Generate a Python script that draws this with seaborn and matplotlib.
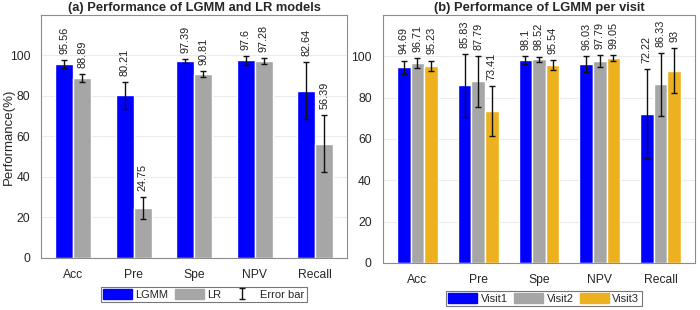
import numpy as np
import pandas as pd
import matplotlib
matplotlib.use('Agg')
import matplotlib.pyplot as plt
import seaborn as sns

METRICS = ['Acc', 'Pre', 'Spe', 'NPV', 'Recall']

# (a) LGMM vs LR
LGMM = [95.56, 80.21, 97.39, 97.6, 82.64]
LGMM_ERR = [2.0, 6.8, 1.0, 2.1, 14.0]
LR = [88.89, 24.75, 90.81, 97.28, 56.39]
LR_ERR = [1.8, 5.5, 1.4, 1.5, 14.0]

# (b) LGMM per visit
VISIT1 = [94.69, 85.83, 98.1, 96.03, 72.22]
VISIT1_ERR = [3.2, 15.3, 2.0, 3.9, 21.7]
VISIT2 = [96.71, 87.79, 98.52, 97.79, 86.33]
VISIT2_ERR = [2.4, 12.3, 1.3, 2.8, 15.2]
VISIT3 = [95.23, 73.41, 95.54, 99.05, 93.0]
VISIT3_ERR = [2.6, 12.2, 2.4, 1.3, 11.0]

BLUE, GRAY, GOLD = '#0000FF', '#A6A6A6', '#EDB120'

sns.set_theme(style='whitegrid')
plt.rcParams['font.family'] = ['Liberation Sans', 'DejaVu Sans']


def long_df(series):
    rows = []
    for name, vals, errs in series:
        for m, v, e in zip(METRICS, vals, errs):
            rows.append({'Metric': m, 'Model': name, 'Value': v, 'Err': e})
    return pd.DataFrame(rows)


def draw(ax, df, palette, width, title, ylabel):
    sns.barplot(data=df, x='Metric', y='Value', hue='Model', palette=palette,
                width=width, gap=0, errorbar=None, saturation=1, legend=False,
                ax=ax, order=METRICS)
    names = list(palette.keys())
    for cont, name in zip(ax.containers, names):
        sub = df[df['Model'] == name].set_index('Metric').loc[METRICS]
        xs = [p.get_x() + p.get_width() / 2 for p in cont.patches]
        ax.errorbar(xs, sub['Value'], yerr=sub['Err'], fmt='none',
                    ecolor='#111111', elinewidth=1, capsize=2.5, capthick=1)
        for x, v, e in zip(xs, sub['Value'], sub['Err']):
            ax.text(x, v + e + 3, f'{v:g}', rotation=90, ha='center',
                    va='bottom', fontsize=7.8, color='#202020')
    ax.set_ylim(0, 120)
    ax.set_yticks([0, 20, 40, 60, 80, 100])
    ax.set_xlabel('')
    ax.set_ylabel(ylabel, fontsize=9.5, color='#262626')
    ax.yaxis.set_label_coords(-0.085, 0.5)
    ax.set_title(title, fontsize=9.3, fontweight='bold', pad=3)
    ax.grid(axis='x', visible=False)
    ax.grid(axis='y', color='#ececec', linewidth=0.8)
    ax.tick_params(axis='both', labelsize=8.7, colors='#262626', pad=2)
    for s in ax.spines.values():
        s.set_color('#8c8c8c')
        s.set_linewidth(0.8)


fig = plt.figure(figsize=(7, 3.1), dpi=100)
ax1 = fig.add_axes([0.059, 0.168, 0.437, 0.784])
ax2 = fig.add_axes([0.547, 0.152, 0.446, 0.800])

df_a = long_df([('LGMM', LGMM, LGMM_ERR), ('LR', LR, LR_ERR)])
draw(ax1, df_a, {'LGMM': BLUE, 'LR': GRAY}, 0.6,
     '(a) Performance of LGMM and LR models', 'Performance(%)')

df_b = long_df([('Visit1', VISIT1, VISIT1_ERR), ('Visit2', VISIT2, VISIT2_ERR),
                ('Visit3', VISIT3, VISIT3_ERR)])
draw(ax2, df_b, {'Visit1': BLUE, 'Visit2': GRAY, 'Visit3': GOLD}, 0.67,
     '(b) Performance of LGMM per visit', '')

# invisible errorbar, only used as legend handle
eb_handle = ax1.errorbar([np.nan], [np.nan], yerr=[1], fmt='none',
                         ecolor='#111111', elinewidth=1, capsize=2.5, capthick=1)

leg_kw = dict(fontsize=8, frameon=True, fancybox=False, edgecolor='#555555',
              handlelength=2.6, handleheight=0.9, handletextpad=0.3,
              columnspacing=0.6, borderpad=0.2, borderaxespad=0)
h_a = [plt.Rectangle((0, 0), 1, 1, color=BLUE), plt.Rectangle((0, 0), 1, 1, color=GRAY),
       eb_handle]
la = fig.legend(h_a, ['LGMM', 'LR', 'Error bar'], loc='center', ncol=3,
                bbox_to_anchor=(0.291, 0.05), **leg_kw)
la.get_frame().set_linewidth(0.8)
h_b = [plt.Rectangle((0, 0), 1, 1, color=c) for c in (BLUE, GRAY, GOLD)]
lb = fig.legend(h_b, ['Visit1', 'Visit2', 'Visit3'], loc='center', ncol=3,
                bbox_to_anchor=(0.777, 0.037), **leg_kw)
lb.get_frame().set_linewidth(0.8)

fig.savefig('out.png', dpi=100)
